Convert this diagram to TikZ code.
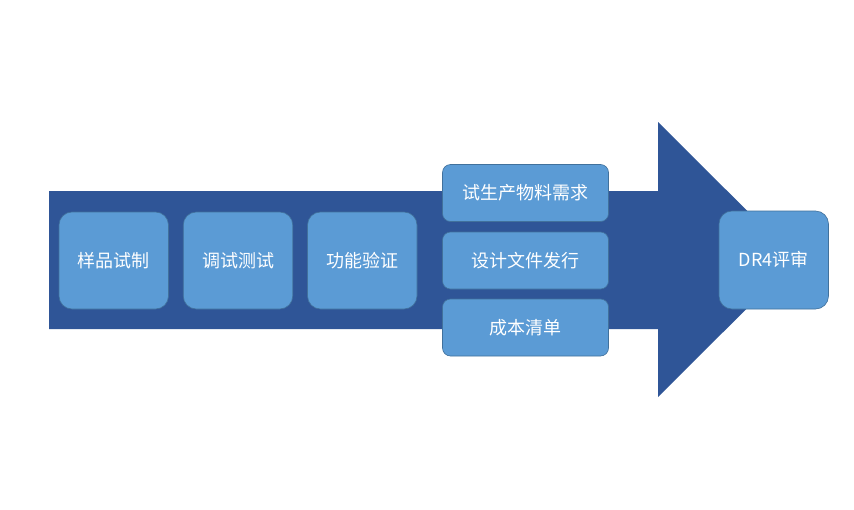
\documentclass[tikz,border=0pt]{standalone}
\usepackage{fontspec}
\newfontfamily\cjk{Noto Sans CJK SC}
\definecolor{arrowblue}{HTML}{2F5597}
\definecolor{boxblue}{HTML}{5B9BD5}
\definecolor{boxline}{HTML}{41719C}
\begin{document}
\begin{tikzpicture}[x=1pt,y=-1pt,
  bigbox/.style={draw=boxline,line width=0.6pt,fill=boxblue,rounded corners=13pt,
    text=white,font=\cjk\fontsize{18}{21}\selectfont,inner sep=0pt,
    minimum width=109.5pt,minimum height=97pt},
  smallbox/.style={draw=boxline,line width=0.6pt,fill=boxblue,rounded corners=8pt,
    text=white,font=\cjk\fontsize{18}{21}\selectfont,inner sep=0pt,
    minimum width=166pt,minimum height=57pt}]
\useasboundingbox (0,0) rectangle (854,509);
\fill[white] (0,0) rectangle (854,509);
% big arrow
\fill[arrowblue] (49,191) -- (658,191) -- (658,122) -- (796,259.5) -- (658,397) -- (658,329) -- (49,329) -- cycle;
% left boxes
\node[bigbox] (b1) at (113.75,260.5) {样品试制};
\node[bigbox] (b2) at (238,260.5) {调试测试};
\node[bigbox] (b3) at (362.25,260.5) {功能验证};
% right column
\node[smallbox] (c1) at (525.5,193) {试生产物料需求};
\node[smallbox] (c2) at (525.5,260.5) {设计文件发行};
\node[smallbox] (c3) at (525.5,327.5) {成本清单};
% DR4 box
\node[bigbox,minimum height=98pt] (d) at (773.75,260) {DR4评审};
\end{tikzpicture}
\end{document}
